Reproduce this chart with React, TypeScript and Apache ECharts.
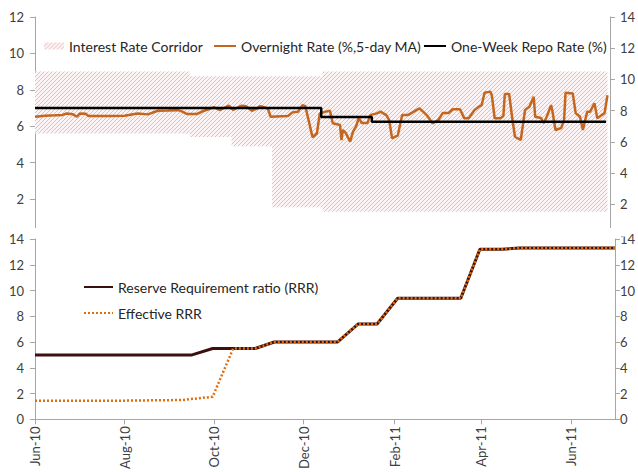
import React, { useEffect, useRef } from "react";
import * as echarts from "echarts";

// x values are days counted from 1 June 2010
const monthTickDays = [0, 61, 122, 183, 245, 304, 365];
const monthTickLabels = ["Jun-10", "Aug-10", "Oct-10", "Dec-10", "Feb-11", "Apr-11", "Jun-11"];

const corridorStartDay = [0, 107, 136, 164, 199];
const corridorEndDay = [107, 136, 164, 199, 396];
const corridorLower = [5.6, 5.4, 4.9, 1.55, 1.3];
const corridorUpper = [9.0, 8.75, 8.75, 8.75, 9.0];

const overnightDay = [
  0, 7, 14, 19, 22, 26, 29, 31, 35, 37,
  51, 62, 71, 78, 85, 92, 99, 102, 105, 112,
  117, 124, 128, 134, 137, 143, 146, 150, 153, 156,
  161, 163, 175, 178, 182, 185, 187, 192, 195, 197,
  201, 204, 206, 211, 212, 213, 215, 218, 220, 222,
  224, 226, 230, 232, 237, 239, 243, 245, 247, 251,
  254, 258, 262, 266, 271, 275, 279, 282, 286, 289,
  294, 297, 300, 304, 307, 309, 311, 315, 316, 318,
  322, 324, 325, 328, 330, 332, 336, 339, 342, 345,
  346, 350, 352, 354, 357, 358, 360, 364, 366, 367,
  372, 374, 377, 379, 382, 384, 387, 389, 392, 394,
  396,
];
const overnightRate = [
  6.52, 6.58, 6.6, 6.62, 6.7, 6.66, 6.52, 6.7, 6.68, 6.56,
  6.56, 6.57, 6.7, 6.65, 6.85, 6.86, 6.88, 6.8, 6.67, 6.67,
  6.85, 7.04, 6.89, 7.13, 6.9, 7.13, 7.1, 6.85, 6.95, 7.1,
  6.98, 6.52, 6.56, 6.76, 6.8, 7.16, 7.1, 5.39, 5.6, 6.7,
  6.8, 6.85, 6.16, 6.07, 5.24, 5.79, 5.62, 5.15, 5.7, 5.97,
  6.45, 6.18, 6.18, 6.61, 6.72, 6.8, 6.61, 6.34, 5.33, 5.5,
  6.61, 6.61, 6.8, 6.98, 6.61, 6.16, 6.34, 6.72, 6.72, 6.93,
  6.93, 6.43, 6.43, 6.89, 7.07, 7.16, 7.84, 7.9, 7.7, 6.43,
  6.43, 6.56, 7.77, 7.77, 6.52, 5.42, 5.24, 6.89, 7.07, 7.62,
  6.52, 6.45, 6.17, 6.52, 7.16, 6.8, 5.79, 5.9, 6.34, 7.84,
  7.8, 6.72, 6.52, 5.79, 6.8, 6.8, 7.26, 6.43, 6.61, 6.72,
  7.7,
];

const repoDay = [0, 198, 233, 395];
const repoRate = [7.0, 6.5, 6.25, 6.25];

const rrrDay = [0, 107, 121, 150, 163, 206, 220, 233, 247, 290, 303, 318, 330, 395];
const rrrValue = [5, 5, 5.5, 5.5, 6, 6, 7.4, 7.4, 9.4, 9.4, 13.2, 13.2, 13.3, 13.3];

const effDay = [0, 60, 100, 121, 135, 150, 163, 206, 220, 233, 247, 290, 303, 318, 330, 395];
const effValue = [1.45, 1.45, 1.5, 1.75, 5.5, 5.5, 6, 6, 7.4, 7.4, 9.4, 9.4, 13.2, 13.2, 13.3, 13.3];

const FONT = "Lato";
const AXIS_COLOR = "#a6a6a6";
const LABEL_COLOR = "#404040";
const LEGEND_TEXT = { color: "#262626", fontFamily: FONT, fontSize: 14 };

function makeHatch(): any {
  const n = 4;
  const c = document.createElement("canvas");
  c.width = n;
  c.height = n;
  const ctx = c.getContext("2d")!;
  const img = ctx.createImageData(n, n);
  for (let yy = 0; yy < n; yy++) {
    for (let xx = 0; xx < n; xx++) {
      const k = (yy * n + xx) * 4;
      const onLine = (xx + yy) % n === n - 1;
      const col = onLine ? [232, 188, 186] : [252, 244, 244];
      img.data[k] = col[0];
      img.data[k + 1] = col[1];
      img.data[k + 2] = col[2];
      img.data[k + 3] = 255;
    }
  }
  ctx.putImageData(img, 0, 0);
  return { image: c, repeat: "repeat", imageWidth: n, imageHeight: n };
}

const zip = (xs: number[], ys: number[]) => xs.map((x, i) => [x, ys[i]]);

export default function App() {
  const ref = useRef<HTMLDivElement>(null);
  useEffect(() => {
    if (!ref.current) return;
    const chart = echarts.init(ref.current, null, { renderer: "svg" });
    const hatch = makeHatch();
    const yAxisCommon = (grid: number, pos: "left" | "right", max: number, hideMin: boolean, margin: number) => ({
      type: "value",
      gridIndex: grid,
      position: pos,
      min: 0,
      max,
      interval: 2,
      splitLine: { show: false },
      axisLine: { show: true, lineStyle: { color: AXIS_COLOR, width: 1 } },
      axisTick: { show: true, inside: false, length: 5, lineStyle: { color: AXIS_COLOR } },
      axisLabel: {
        show: true,
        color: LABEL_COLOR,
        fontFamily: FONT,
        fontSize: 13,
        margin,
        showMinLabel: !hideMin,
      },
    });
    const corridorData = corridorStartDay.map((s, i) => [s, corridorEndDay[i], corridorLower[i], corridorUpper[i]]);
    const option: any = {
      animation: false,
      textStyle: { fontFamily: FONT },
      grid: [
        { left: 35, right: 18, top: 17, bottom: 236.6 },
        { left: 35, right: 22, top: 239, bottom: 43 },
      ],
      xAxis: [
        { type: "value", gridIndex: 0, min: 0, max: 397.7, show: false },
        {
          type: "value",
          gridIndex: 1,
          min: 0,
          max: 395,
          splitLine: { show: false },
          axisLine: { show: true, onZero: false, lineStyle: { color: AXIS_COLOR } },
          axisTick: { show: true, length: 5, customValues: monthTickDays, lineStyle: { color: AXIS_COLOR } },
          axisLabel: {
            show: true,
            rotate: 90,
            color: LABEL_COLOR,
            fontFamily: FONT,
            fontSize: 13,
            margin: 7,
            customValues: monthTickDays,
            formatter: (v: number) => {
              const i = monthTickDays.indexOf(v);
              return i >= 0 ? monthTickLabels[i] : "";
            },
          },
        },
      ],
      yAxis: [
        yAxisCommon(0, "left", 12, true, 11),
        yAxisCommon(0, "right", 14, true, 10),
        yAxisCommon(1, "left", 14, false, 11),
        yAxisCommon(1, "right", 14, false, 5),
      ],
      legend: [
        {
          data: ["Interest Rate Corridor"],
          left: 39,
          top: 34,
          icon: "rect",
          itemWidth: 20,
          itemHeight: 7,
          textStyle: LEGEND_TEXT,
        },
        {
          data: ["Overnight Rate (%,5-day MA)"],
          left: 208,
          top: 34,
          itemWidth: 22,
          itemHeight: 12,
          itemStyle: { opacity: 0 },
          textStyle: LEGEND_TEXT,
        },
        {
          data: ["One-Week Repo Rate (%)"],
          left: 418,
          top: 34,
          itemWidth: 22,
          itemHeight: 12,
          itemStyle: { opacity: 0 },
          textStyle: LEGEND_TEXT,
        },
        {
          data: ["Reserve Requirement ratio (RRR)", "Effective RRR"],
          orient: "vertical",
          left: 78,
          top: 275,
          itemWidth: 29,
          itemHeight: 14,
          itemGap: 12,
          itemStyle: { opacity: 0 },
          textStyle: LEGEND_TEXT,
        },
      ],
      series: [
        {
          name: "Interest Rate Corridor",
          type: "custom",
          xAxisIndex: 0,
          yAxisIndex: 0,
          data: corridorData,
          encode: { x: [0, 1], y: [2, 3] },
          itemStyle: { color: hatch },
          renderItem: (params: any, api: any) => {
            const p1 = api.coord([api.value(0), api.value(3)]);
            const p2 = api.coord([api.value(1), api.value(2)]);
            return {
              type: "rect",
              shape: { x: p1[0], y: p1[1], width: p2[0] - p1[0], height: p2[1] - p1[1] },
              style: { fill: hatch },
            };
          },
          z: 1,
        },
        {
          name: "Overnight Rate (%,5-day MA)",
          type: "line",
          xAxisIndex: 0,
          yAxisIndex: 0,
          data: zip(overnightDay, overnightRate),
          symbol: "none",
          lineStyle: { color: "#c4661f", width: 2.5 },
          itemStyle: { color: "#c4661f" },
          z: 3,
        },
        {
          name: "One-Week Repo Rate (%)",
          type: "line",
          xAxisIndex: 0,
          yAxisIndex: 0,
          step: "end",
          data: zip(repoDay, repoRate),
          symbol: "none",
          lineStyle: { color: "#000000", width: 2.5 },
          itemStyle: { color: "#000000" },
          z: 4,
        },
        {
          name: "Reserve Requirement ratio (RRR)",
          type: "line",
          xAxisIndex: 1,
          yAxisIndex: 2,
          data: zip(rrrDay, rrrValue),
          symbol: "none",
          lineStyle: { color: "#3d1010", width: 3 },
          itemStyle: { color: "#3d1010" },
          z: 3,
        },
        {
          name: "Effective RRR",
          type: "line",
          xAxisIndex: 1,
          yAxisIndex: 2,
          data: zip(effDay, effValue),
          symbol: "none",
          lineStyle: { color: "#e46c0a", width: 2.5, type: [2, 2] },
          itemStyle: { color: "#e46c0a" },
          z: 4,
        },
      ],
      graphic: [
        {
          type: "rect",
          z: 100,
          shape: { x: 28, y: 228, width: 598, height: 8.5 },
          style: { fill: "#ffffff" },
        },
      ],
    };
    chart.setOption(option);
    return () => chart.dispose();
  }, []);
  return (
    <div
      ref={ref}
      style={{ position: "fixed", left: 0, top: 0, width: 638, height: 472, background: "#ffffff" }}
    />
  );
}
